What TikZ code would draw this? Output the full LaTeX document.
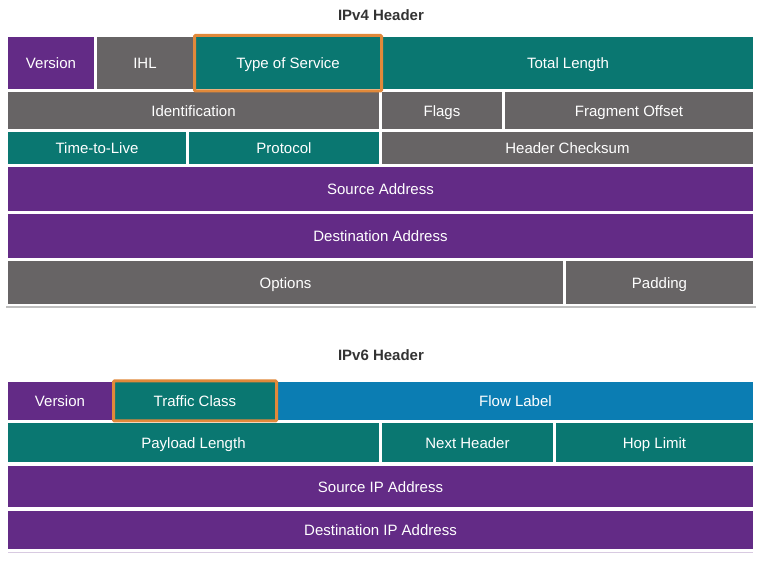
\documentclass[tikz,border=0pt]{standalone}
\usepackage{fontspec}
\setmainfont{Liberation Sans}
\usepackage{tikz}

\definecolor{vpurple}{RGB}{99,43,134}
\definecolor{vgray}{RGB}{103,100,101}
\definecolor{vteal}{RGB}{10,119,113}
\definecolor{vblue}{RGB}{11,125,179}
\definecolor{vorange}{RGB}{225,137,58}
\newcommand\cellfont{\fontsize{15}{18}\selectfont}

\begin{document}
\begin{tikzpicture}[x=1pt, y=-1pt,
  field/.style={rectangle, inner sep=0pt, outer sep=0pt, text=white, font=\cellfont,
    text height=12pt, text depth=0.5pt},
  title/.style={text=black!80, font=\bfseries\fontsize{15}{18}\selectfont},
  hilite/.style={draw=vorange, line width=3pt, rounded corners=1pt}]
\useasboundingbox (0,0) rectangle (761,561);

\node[title] (t4) at (381,15) {IPv4 Header};
\node[title] (t6) at (381,355) {IPv6 Header};

% IPv4 fields
\foreach \nm/\xa/\ya/\xb/\yb/\col/\txt in {
  ver4/8/37/94/89/vpurple/Version,
  ihl/97/37/193/89/vgray/IHL,
  tos/196/37/380/89/vteal/Type of Service,
  tlen/383/37/753/89/vteal/Total Length,
  ident/8/92/379/129/vgray/Identification,
  flags/382/92/502/129/vgray/Flags,
  frag/505/92/753/129/vgray/Fragment Offset,
  ttl/8/132/186/164/vteal/Time-to-Live,
  proto/189/132/379/164/vteal/Protocol,
  hcs/382/132/753/164/vgray/Header Checksum,
  src4/8/167/753/211/vpurple/Source Address,
  dst4/8/214/753/258/vpurple/Destination Address,
  opts/8/261/563/304/vgray/Options,
  pad/566/261/753/304/vgray/Padding}
{
\node[field, fill=\col, minimum width={(\xb-\xa)*1pt}, minimum height={(\yb-\ya)*1pt}]
  (\nm) at ({(\xa+\xb)/2},{(\ya+\yb)/2}) {\txt};
}

% IPv6 fields
\foreach \nm/\xa/\ya/\xb/\yb/\col/\txt in {
  ver6/8/382/112/420/vpurple/Version,
  tc/115/382/275/420/vteal/Traffic Class,
  flow/278/382/753/420/vblue/Flow Label,
  plen/8/423/379/462/vteal/Payload Length,
  nxt/382/423/553/462/vteal/Next Header,
  hop/556/423/753/462/vteal/Hop Limit,
  src6/8/466/753/507/vpurple/Source IP Address,
  dst6/8/511/753/549/vpurple/Destination IP Address}
{
\node[field, fill=\col, minimum width={(\xb-\xa)*1pt}, minimum height={(\yb-\ya)*1pt}]
  (\nm) at ({(\xa+\xb)/2},{(\ya+\yb)/2}) {\txt};
}

% shadows under the blocks
\draw[black!25, line width=2pt] ([shift={(-2,3)}]opts.south west) -- ([shift={(3,3)}]pad.south east);
\draw[vpurple!25, line width=1pt] ([shift={(0,3)}]dst6.south west) -- ([shift={(0,3)}]dst6.south east);

% highlighted fields
\draw[hilite] ([shift={(-1.5,-1.5)}]tos.north west) rectangle ([shift={(1.5,2)}]tos.south east);
\draw[hilite] ([shift={(-1.5,-1)}]tc.north west) rectangle ([shift={(1.5,1)}]tc.south east);
\end{tikzpicture}
\end{document}
